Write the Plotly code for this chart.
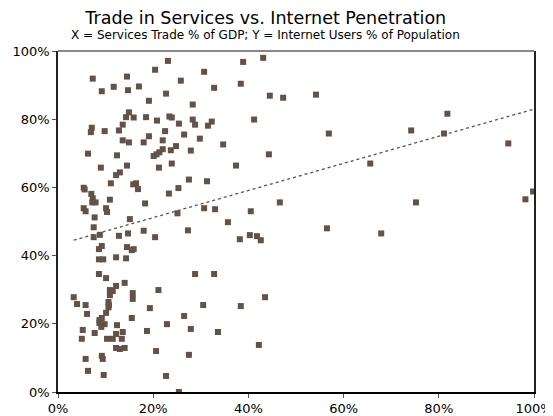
import numpy as np
import plotly.graph_objects as go

# Services trade as % of GDP (x) and internet users as % of population (y)
services_trade_pct = [
    23.1, 20.4, 7.3, 14.5, 25.8, 9.2, 11.7, 14.7, 17.0, 22.7,
    19.1, 14.9, 14.3, 15.9, 18.5, 20.8, 23.4, 23.9, 25.4, 13.6,
    7.1, 6.9, 9.8, 12.8, 22.5, 19.1, 13.6, 14.9, 18.0, 22.0,
    24.8, 23.7, 22.0, 21.3, 20.7, 20.1, 6.3, 12.4, 9.0, 14.5,
    21.2, 23.9, 13.0, 12.2, 11.1, 15.8, 16.4, 16.8, 25.3, 5.4,
    5.6, 7.0, 23.3, 7.3, 7.2, 7.9, 10.9, 18.3, 5.4, 5.8,
    10.1, 10.3, 7.7, 15.1, 25.1, 7.5, 8.8, 7.5, 12.8, 14.7,
    18.0, 20.4, 9.2, 8.6, 14.5, 15.5, 15.9, 12.2, 14.3, 8.6,
    9.5, 8.6, 10.1, 14.0, 12.2, 10.9, 11.5, 10.9, 15.7, 15.7,
    21.1, 3.3, 4.0, 5.8, 10.6, 10.7, 10.6, 19.3, 6.1, 10.1,
    9.2, 8.7, 8.7, 9.8, 9.1, 15.5, 12.4, 22.9, 5.2, 13.6,
    7.7, 18.7, 12.2, 5.0, 10.3, 11.5, 13.4, 12.2, 13.0, 14.0,
    20.6, 9.2, 9.4, 5.8, 6.3, 9.6, 22.7, 38.9, 43.1, 30.7,
    32.8, 38.4, 44.5, 47.3, 28.3, 28.3, 28.8, 31.5, 32.3, 41.2,
    26.5, 29.8, 34.7, 27.9, 44.3, 37.4, 27.5, 31.3, 46.6, 30.7,
    33.0, 40.5, 35.7, 27.3, 38.2, 40.3, 41.8, 42.6, 28.8, 32.8,
    43.5, 30.5, 38.4, 26.5, 27.9, 33.6, 42.2, 27.5, 25.4, 54.2,
    56.9, 81.8, 74.2, 81.1, 94.6, 65.6, 75.2, 98.2, 99.8, 56.5,
    67.9,
]
internet_users_pct = [
    97.1, 94.5, 91.9, 92.5, 91.3, 88.2, 89.5, 88.5, 89.6, 87.5,
    85.4, 82.0, 80.6, 80.5, 80.6, 79.6, 80.8, 80.5, 78.7, 78.4,
    77.5, 76.2, 76.5, 76.7, 76.5, 75.0, 73.8, 73.2, 73.2, 73.8,
    72.1, 70.9, 71.2, 70.3, 69.7, 69.2, 69.9, 69.4, 65.8, 66.4,
    65.8, 67.0, 64.4, 63.6, 61.2, 60.9, 61.2, 59.5, 59.8, 59.9,
    59.4, 58.1, 58.2, 56.8, 55.6, 55.6, 56.4, 55.3, 53.9, 53.0,
    53.9, 52.8, 51.2, 50.7, 52.4, 48.3, 46.1, 45.4, 45.8, 46.5,
    47.3, 45.4, 42.8, 41.9, 42.5, 41.6, 41.9, 39.5, 39.2, 38.9,
    38.9, 34.6, 33.4, 32.0, 31.1, 29.9, 29.6, 28.4, 29.0, 27.3,
    29.9, 27.8, 25.8, 25.5, 26.4, 25.5, 24.8, 24.6, 22.9, 23.2,
    21.7, 21.1, 20.2, 19.9, 19.1, 21.7, 19.6, 19.9, 18.2, 17.6,
    17.3, 17.9, 17.0, 15.6, 15.6, 15.6, 15.6, 12.9, 12.6, 12.9,
    12.0, 10.6, 9.7, 9.7, 6.2, 5.0, 4.7, 96.8, 98.0, 93.9,
    89.2, 90.4, 86.9, 86.3, 84.3, 79.9, 78.4, 78.1, 79.3, 79.9,
    75.5, 74.3, 72.6, 70.8, 69.7, 66.4, 62.3, 61.8, 55.6, 53.9,
    53.6, 53.0, 49.8, 47.4, 44.8, 46.0, 45.7, 44.5, 34.6, 34.6,
    27.8, 25.5, 25.2, 22.3, 18.5, 17.6, 13.8, 10.9, 0.0, 87.2,
    75.8, 81.6, 76.7, 75.8, 72.9, 67.0, 55.6, 56.5, 58.8, 48.0,
    46.5,
]
tick_values = [0, 20, 40, 60, 80, 100]
tick_labels = ["0%", "20%", "40%", "60%", "80%", "100%"]

title_text = "Trade in Services vs. Internet Penetration"
subtitle_text = "X = Services Trade % of GDP; Y = Internet Users % of Population"

xs = np.array(services_trade_pct)
ys = np.array(internet_users_pct)
slope, intercept = np.polyfit(xs, ys, 1)
trend_x = np.array([xs.min(), xs.max()])
trend_y = slope * trend_x + intercept

FONT = "DejaVu Sans, Verdana, sans-serif"

# the page body adds an 8px margin, so the figure is sized to fit the window
FIG_W, FIG_H = 545, 408
M_L, M_R, M_T, M_B = 50, 19, 43, 24
PLOT_H = FIG_H - M_T - M_B
TITLE_X = 0.473  # titles sit slightly left of the plot centre

fig = go.Figure()
fig.add_trace(go.Scatter(
    x=trend_x, y=trend_y, mode="lines",
    line=dict(color="#555555", width=1.3, dash="dot"),
    hoverinfo="skip", showlegend=False,
))
fig.add_trace(go.Scatter(
    x=xs, y=ys, mode="markers",
    marker=dict(symbol="square", size=6, color="#625247", line=dict(width=0)),
    showlegend=False,
))

fig.update_layout(
    width=FIG_W, height=FIG_H,
    margin=dict(l=M_L, r=M_R, t=M_T, b=M_B, autoexpand=False),
    paper_bgcolor="white", plot_bgcolor="white",
    font=dict(family=FONT, size=13, color="#000000"),
    title=dict(text=title_text, x=TITLE_X, xanchor="center", xref="container",
               y=1 - 10.0 / FIG_H, yref="container", yanchor="middle",
               font=dict(family=FONT, size=17.5, color="#000000")),
    annotations=[dict(text=subtitle_text, xref="paper", yref="paper",
                      x=(TITLE_X * FIG_W - M_L) / (FIG_W - M_L - M_R),
                      y=1 + 16.5 / PLOT_H, xanchor="center", yanchor="middle",
                      showarrow=False, font=dict(family=FONT, size=12, color="#000000"))],
    shapes=[dict(type="line", xref="paper", yref="paper", x0=0, x1=1, y0=1, y1=1,
                 line=dict(color="#888888", width=2))],
)
fig.update_xaxes(
    range=[0, 100], tickvals=tick_values, ticktext=tick_labels,
    showgrid=False, zeroline=False, showline=True, linecolor="#000000", linewidth=1.5,
    ticks="outside", ticklen=4, tickcolor="#555555", tickwidth=1,
)
fig.update_yaxes(
    range=[0, 100], tickvals=tick_values, ticktext=tick_labels,
    showgrid=False, zeroline=False, showline=True, linecolor="#222222", linewidth=1.5,
    mirror=True,
    ticks="outside", ticklen=4, tickcolor="#555555", tickwidth=1,
)

fig.write_html("out.html")
